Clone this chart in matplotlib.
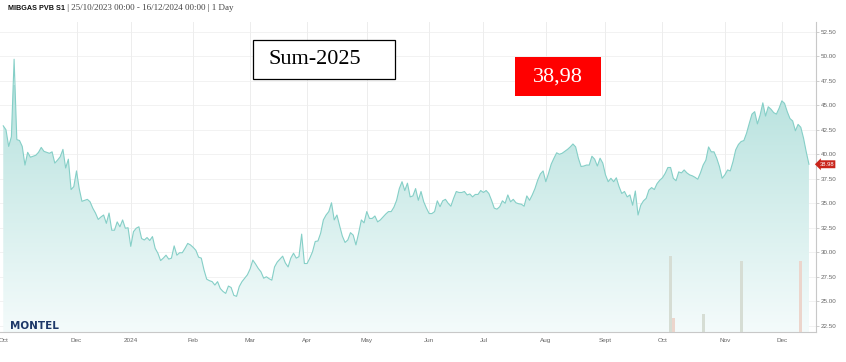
import numpy as np
import pandas as pd
import matplotlib
matplotlib.use("Agg")
import matplotlib.pyplot as plt
from matplotlib.colors import LinearSegmentedColormap
from matplotlib.patches import Rectangle
import matplotlib.transforms as mtransforms

# ---------------- data ----------------
start_date = "2023-10-25"
end_date = "2024-12-16"
holidays = ["2023-12-25"]

prices = [
    42.9, 42.5, 40.8, 41.8, 49.7, 41.5, 41.4, 40.8, 38.9, 40.2,
    39.7, 39.8, 39.9, 40.2, 40.7, 40.3, 40.2, 40.1, 40.25, 39.1,
    39.4, 39.75, 40.5, 38.6, 39.5, 36.4, 36.7, 38.3, 36.5, 35.2,
    35.3, 35.4, 35.15, 34.5, 34.0, 33.35, 33.6, 33.8, 32.95, 34.0,
    32.25, 32.25, 33.1, 32.6, 33.3, 32.45, 32.5, 30.6, 32.1, 32.45,
    32.6, 31.4, 31.25, 31.5, 31.2, 31.6, 30.4, 29.9, 29.15, 29.4,
    29.7, 29.3, 29.4, 30.65, 29.7, 29.95, 29.95, 30.4, 30.9, 30.75,
    30.5, 30.2, 29.5, 29.4, 28.2, 27.25, 27.1, 27.0, 26.65, 27.0,
    26.3, 26.0, 25.8, 26.55, 26.4, 25.6, 25.5, 26.5, 27.0, 27.35,
    27.7, 28.3, 29.2, 28.8, 28.35, 28.0, 27.35, 27.5, 27.3, 27.15,
    28.5, 29.0, 29.3, 29.6, 28.9, 28.5, 29.4, 29.9, 29.4, 29.55,
    31.85, 28.85, 28.85, 29.4, 30.05, 31.1, 31.15, 31.95, 33.3, 33.8,
    34.15, 35.05, 33.3, 33.8, 32.7, 31.65, 31.0, 31.25, 32.0, 31.75,
    30.75, 31.95, 33.3, 33.0, 34.15, 33.45, 33.45, 33.7, 33.1, 33.3,
    33.6, 33.9, 34.15, 34.15, 34.6, 35.3, 36.5, 37.2, 36.3, 37.05,
    35.65, 35.75, 36.5, 35.3, 36.2, 35.15, 34.5, 33.95, 33.95, 34.15,
    35.25, 34.65, 35.25, 35.4, 35.0, 34.7, 35.5, 36.2, 36.1, 36.1,
    36.2, 35.85, 35.95, 35.65, 35.9, 35.9, 36.3, 36.1, 36.3, 36.0,
    35.3, 34.5, 34.4, 34.65, 35.25, 35.0, 35.85, 35.15, 35.4, 35.05,
    34.95, 34.9, 34.7, 35.75, 35.3, 35.85, 36.5, 37.35, 38.0, 38.3,
    37.2, 38.05, 39.0, 39.6, 40.15, 40.0, 40.1, 40.3, 40.5, 40.75,
    41.05, 40.75, 39.6, 38.75, 38.8, 38.9, 38.9, 39.8, 39.5, 38.8,
    39.6, 39.1, 37.9, 37.2, 37.55, 37.2, 37.6, 36.7, 36.0, 36.2,
    35.65, 35.85, 34.8, 36.25, 33.8, 34.8, 35.25, 35.5, 36.35, 36.6,
    36.4, 37.0, 37.35, 37.6, 38.05, 38.65, 38.65, 37.55, 37.3, 38.2,
    38.1, 38.4, 38.1, 37.9, 37.8, 37.65, 37.45, 38.1, 38.9, 39.4,
    40.75, 40.25, 40.25, 39.6, 38.75, 37.55, 37.9, 38.4, 38.3, 39.25,
    40.45, 41.0, 41.3, 41.4, 42.15, 43.15, 44.1, 44.35, 43.1, 44.0,
    45.25, 43.9, 44.85, 44.6, 44.25, 44.1, 44.7, 45.45, 45.2, 44.35,
    43.65, 43.4, 42.4, 43.05, 42.75, 41.65, 40.25, 38.98,
]

vol_dates = ["2024-10-04", "2024-10-07", "2024-10-22", "2024-11-11", "2024-12-11"]
volumes = [7.8, 1.4, 1.8, 7.2, 7.2]
vol_colors = ["#d6ddd4", "#ecd5cc", "#d6ddd4", "#d6ddd4", "#ecd5cc"]

y_ticks = [22.5, 25.0, 27.5, 30.0, 32.5, 35.0, 37.5, 40.0, 42.5, 45.0, 47.5, 50.0, 52.5]
tick_months = ["2023-10", "2023-12", "2024-01", "2024-02", "2024-03", "2024-04", "2024-05",
               "2024-06", "2024-07", "2024-08", "2024-09", "2024-10", "2024-11", "2024-12"]
tick_labels = ["Oct", "Dec", "2024", "Feb", "Mar", "Apr", "May",
               "Jun", "Jul", "Aug", "Sept", "Oct", "Nov", "Dec"]

title_bold = "MIBGAS PVB S1"
title_rest = " | 25/10/2023 00:00 - 16/12/2024 00:00 | 1 Day"
product_label = "Sum-2025"
last_label = "38,98"

# ---------------- build ----------------
dates = pd.bdate_range(start_date, end_date)
dates = dates[~dates.isin(pd.to_datetime(holidays))]
idx = np.arange(len(dates))
vals = np.array(prices[:len(dates)])

tick_pos = [int(np.searchsorted(dates, pd.Timestamp(m + "-01"))) for m in tick_months]
vol_pos = [int(np.searchsorted(dates, pd.Timestamp(d))) for d in vol_dates]

W, H = 846, 362
fig = plt.figure(figsize=(W / 100, H / 100), dpi=100)
fig.patch.set_facecolor("white")

ax_left, ax_right = 0.0, 816 / W
ax_bottom, ax_top = (H - 332) / H, (H - 22) / H
ax = fig.add_axes([ax_left, ax_bottom, ax_right - ax_left, ax_top - ax_bottom])

xmin, xmax = -1.2, 299.6
ymin, ymax = 21.86, 53.5
ax.set_xlim(xmin, xmax)
ax.set_ylim(ymin, ymax)

# grid
for yt in y_ticks:
    ax.axhline(yt, color="#f2f2f2", lw=0.7, zorder=0)
for tp in tick_pos[1:]:
    ax.axvline(tp, color="#ededed", lw=0.7, zorder=0)

# gradient fill
poly = ax.fill_between(idx, vals, ymin, color="none", lw=0)
cmap = LinearSegmentedColormap.from_list("g", ["#f4fbfb", "#b7e2de"])
grad = np.linspace(0, 1, 256).reshape(-1, 1)
im = ax.imshow(grad, extent=[xmin, xmax, ymin, 47.0], origin="lower", aspect="auto",
               cmap=cmap, zorder=1)
path = poly.get_paths()[0]
im.set_clip_path(path, transform=ax.transData)
ax.set_ylim(ymin, ymax)
ax.set_xlim(xmin, xmax)
ax.plot(idx, vals, color="#85cfc7", lw=0.8, zorder=3)

# volume bars on hidden twin axis
ax2 = ax.twinx()
ax2.set_ylim(0, ymax - ymin)
ax2.bar(vol_pos, volumes, width=1.1, color=vol_colors, zorder=4)
ax2.set_axis_off()
ax2.set_xlim(xmin, xmax)

# axes styling
for s in ["top", "left"]:
    ax.spines[s].set_visible(False)
ax.spines["right"].set_color("#c8c8c8")
ax.spines["bottom"].set_color("#c8c8c8")
ax.spines["right"].set_linewidth(0.8)
ax.spines["bottom"].set_linewidth(0.8)
ax.yaxis.tick_right()
ax.set_yticks(y_ticks)
ax.set_yticklabels([f"{v:.2f}" for v in y_ticks], fontsize=4.5, color="#666666",
                   family="Liberation Sans")
ax.tick_params(axis="y", length=2, width=0.6, color="#c8c8c8", pad=1.2)
ax.set_xticks(tick_pos)
ax.set_xticklabels(tick_labels, fontsize=4.6, color="#666666", family="Liberation Sans")
ax.tick_params(axis="x", length=0, pad=4)

# last price marker
trans = mtransforms.blended_transform_factory(ax.transAxes, ax.transData)
ax.text(1.004, vals[-1], f"{vals[-1]:.2f}", transform=trans, fontsize=4.2, color="white",
        ha="left", va="center", family="Liberation Sans", zorder=10, clip_on=False,
        bbox=dict(boxstyle="larrow,pad=0.25", fc="#c9241b", ec="none"))

# title
t1 = fig.text(8 / W, 1 - 8 / H, title_bold, fontsize=5.2, fontweight="bold",
              family="Liberation Sans", color="#111111", va="center", ha="left")
fig.canvas.draw()
bb = t1.get_window_extent()
fig.text(bb.x1 / W, 1 - 8 / H, title_rest, fontsize=6.5, family="Liberation Serif",
         color="#444444", va="center", ha="left")

# Sum-2025 box
fig.add_artist(Rectangle((253 / W, (H - 79) / H), 142 / W, 39 / H, transform=fig.transFigure,
                         fc="white", ec="black", lw=0.9, zorder=20))
fig.text(268 / W, (H - 60) / H, product_label, fontsize=16, family="Liberation Serif",
         color="black", va="center", ha="left", zorder=21)

# red value box
fig.add_artist(Rectangle((515 / W, (H - 96) / H), 86 / W, 39 / H, transform=fig.transFigure,
                         fc="#ff0000", ec="none", zorder=20))
fig.text(558 / W, (H - 77) / H, last_label, fontsize=16, family="Liberation Serif",
         color="white", va="center", ha="center", zorder=21)

# MONTEL logo
fig.text(10 / W, (H - 326) / H, "MONTEL", fontsize=7.5, fontweight="bold",
         family="DejaVu Sans", color="#1d3868", va="center", ha="left", zorder=21)

fig.savefig("out.png", dpi=100, facecolor="white")
